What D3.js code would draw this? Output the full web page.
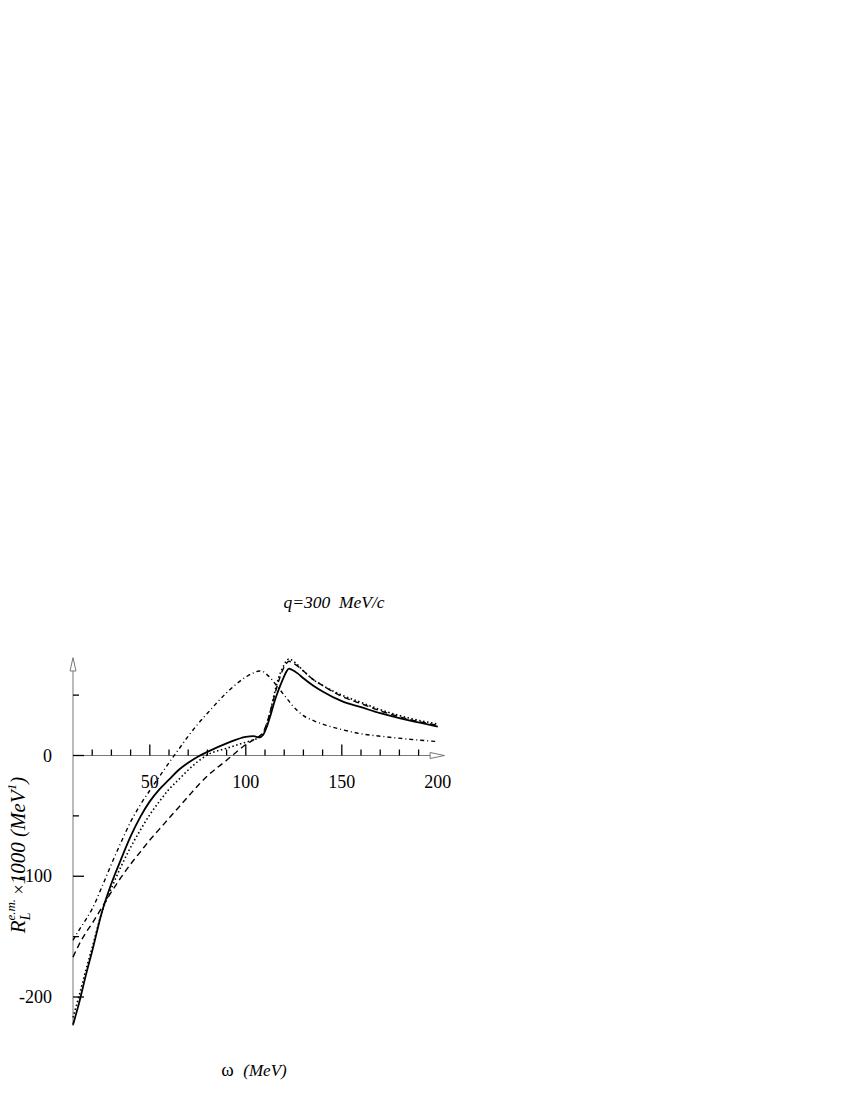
<!DOCTYPE html>
<html>
<head>
<meta charset="utf-8">
<script src="https://cdn.jsdelivr.net/npm/d3@7"></script>
<style>
  html, body { margin: 0; padding: 0; background: #fff; }
  svg { display: block; }
  text { font-family: "Liberation Serif", "Times New Roman", serif; fill: #000; white-space: pre; }
</style>
</head>
<body>
<svg id="chart" width="850" height="1100"></svg>
<script>
// ---- data ----
const omega = [10, 13, 17, 20, 25, 30, 35, 40, 45, 50, 55, 60, 65, 70, 75, 80, 90, 100, 104, 107, 109, 111, 113, 115, 117, 119, 121, 122.5, 124, 127, 130, 135, 140, 150, 160, 170, 185, 200];

const solidVals  = [-223, -206, -180, -162, -130, -106, -86, -67, -51, -38, -28, -20, -12, -6, -1, 3, 10, 15.5, 16, 15, 17, 24, 34, 45, 54, 62, 69, 72, 71, 68, 64, 58, 53, 45, 40, 35, 29, 24];
const dottedVals = [-217, -200, -176, -159, -130, -110, -92, -76, -62, -49, -38, -28, -20, -12, -5, 0.5, 6, 11, 13, 15, 18, 26, 38, 52, 64, 72, 78, 80, 79, 75, 70, 63, 58, 50, 44, 38, 31, 26];
const dashedVals = [-167, -157, -146, -139, -126, -113, -101, -90, -80, -70, -61, -52, -43, -34, -25, -17, -4, 9, 13, 16, 19, 27, 38, 50, 61, 70, 76, 78, 77, 74, 70, 63, 58, 49, 43, 37, 30, 25];
const dashDotVals= [-153, -145, -135, -127, -109, -90, -72, -55, -41, -29, -17.5, -6, 5, 16, 26, 35, 52, 65, 68.5, 70, 69.5, 67, 64, 60, 56, 52, 48, 45, 42, 37, 33, 29, 26, 21.5, 18, 16, 13.5, 11.5];

const xMinorTicks = [20, 30, 40, 50, 60, 70, 80, 90, 100, 110, 120, 130, 140, 150, 160, 170, 180, 190];
const xMajorTicks = [50, 100, 150];
const xTickLabels = [50, 100, 150, 200];
const yMinorTicks = [50, 0, -50, -100, -150, -200];
const yMajorTicks = [0, -100, -200];
const yTickLabels = [0, -100, -200];

const titleText = "q=300  MeV/c";

// ---- scales ----
const x = d3.scaleLinear().domain([10, 200]).range([73, 437.8]);
const y = d3.scaleLinear().domain([0, -200]).range([755.5, 997]);

const svg = d3.select("#chart");

// ---- axes ----
const axisColor = "#777";
svg.append("line")
  .attr("x1", x(10)).attr("x2", x(10))
  .attr("y1", y(-224)).attr("y2", y(73))
  .attr("stroke", axisColor).attr("stroke-width", 1);
const yTip = y(81), yBase = y(70);
svg.append("path")
  .attr("d", `M${x(10)},${yTip} L${x(10) - 3},${yBase} L${x(10) + 3},${yBase} Z`)
  .attr("fill", "#fff").attr("stroke", axisColor).attr("stroke-width", 1);

svg.append("line")
  .attr("x1", x(10)).attr("x2", x(196))
  .attr("y1", y(0)).attr("y2", y(0))
  .attr("stroke", axisColor).attr("stroke-width", 1);
const xTip = x(203.5), xBase = x(196);
svg.append("path")
  .attr("d", `M${xTip},${y(0)} L${xBase},${y(0) - 3} L${xBase},${y(0) + 3} Z`)
  .attr("fill", "#fff").attr("stroke", axisColor).attr("stroke-width", 1);

svg.selectAll(".xtick").data(xMinorTicks).enter().append("line")
  .attr("x1", d => x(d)).attr("x2", d => x(d))
  .attr("y1", y(0)).attr("y2", d => y(0) - (xMajorTicks.includes(d) ? 11 : 6))
  .attr("stroke", "#000").attr("stroke-width", 1.3);

svg.selectAll(".ytick").data(yMinorTicks).enter().append("line")
  .attr("x1", x(10)).attr("x2", d => x(10) + (yMajorTicks.includes(d) ? 11 : 6))
  .attr("y1", d => y(d)).attr("y2", d => y(d))
  .attr("stroke", "#000").attr("stroke-width", 1.3);

svg.selectAll(".xlab").data(xTickLabels).enter().append("text")
  .attr("x", d => x(d)).attr("y", y(0) + 32)
  .attr("text-anchor", "middle")
  .attr("font-size", 18)
  .text(d => d);
svg.selectAll(".ylab").data(yTickLabels).enter().append("text")
  .attr("x", 52).attr("y", d => y(d) + 6)
  .attr("text-anchor", "end")
  .attr("font-size", 18)
  .text(d => d);

// title
svg.append("text")
  .attr("x", 334).attr("y", 608)
  .attr("text-anchor", "middle")
  .attr("font-size", 17.5)
  .attr("font-style", "italic")
  .text(titleText);

// x label
const xl = svg.append("text")
  .attr("x", 254).attr("y", 1076)
  .attr("text-anchor", "middle")
  .attr("font-size", 19);
xl.append("tspan").text("ω  ");
xl.append("tspan").attr("font-style", "italic").attr("font-size", 17).text("(MeV)");

// y label (rotated)
const yl = svg.append("text")
  .attr("transform", "translate(25,855) rotate(-90)")
  .attr("text-anchor", "middle")
  .attr("font-size", 21)
  .attr("font-style", "italic");
yl.append("tspan").text("R");
yl.append("tspan").attr("font-size", 14).attr("dy", 5).text("L");
yl.append("tspan").attr("font-size", 13).attr("dx", -8).attr("dy", -15).text("e.m.");
yl.append("tspan").attr("dy", 10).attr("font-style", "normal").attr("font-size", 18).text(" ×");
yl.append("tspan").text("1000 (MeV");
yl.append("tspan").attr("font-size", 13).attr("dy", -9).text("1");
yl.append("tspan").attr("dy", 9).text(")");

// ---- curves ----
const line = d3.line().x(d => x(d[0])).y(d => y(d[1])).curve(d3.curveMonotoneX);
const series = [
  { vals: dashDotVals, dash: "4,3,1,3", w: 1.4 },
  { vals: dashedVals,  dash: "6,4",     w: 1.4 },
  { vals: dottedVals,  dash: "1.5,2.5", w: 1.6 },
  { vals: solidVals,   dash: null,      w: 1.8 }
];
series.forEach(s => {
  svg.append("path")
    .datum(omega.map((o, i) => [o, s.vals[i]]))
    .attr("d", line)
    .attr("fill", "none")
    .attr("stroke", "#000")
    .attr("stroke-width", s.w)
    .attr("stroke-dasharray", s.dash);
});
</script>
</body>
</html>
